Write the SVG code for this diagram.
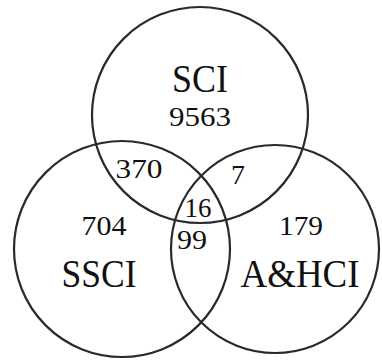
<svg xmlns="http://www.w3.org/2000/svg" width="382" height="360" viewBox="0 0 382 360">
<style>
.c{fill:none;stroke:#2a2a2a;stroke-width:2.2}
.lbl{font-family:"Liberation Serif","Times New Roman",serif;font-size:40px;fill:#111;text-anchor:middle}
.num{font-family:"Liberation Serif","Times New Roman",serif;font-size:28px;fill:#111;text-anchor:middle}
</style>
<rect width="382" height="360" fill="#ffffff"/>
<g id="sci">
<circle class="c" cx="200" cy="115" r="108"/>
<text class="lbl" x="200" y="92" textLength="56" lengthAdjust="spacingAndGlyphs">SCI</text>
<text class="num" x="200" y="126" textLength="62" lengthAdjust="spacingAndGlyphs">9563</text>
</g>
<g id="ssci">
<circle class="c" cx="122" cy="249" r="108"/>
<text class="num" x="104" y="235" textLength="45" lengthAdjust="spacingAndGlyphs">704</text>
<text class="lbl" x="99" y="287" textLength="75" lengthAdjust="spacingAndGlyphs">SSCI</text>
</g>
<g id="ahci">
<circle class="c" cx="275" cy="249" r="104"/>
<text class="num" x="301" y="235" textLength="44" lengthAdjust="spacingAndGlyphs">179</text>
<text class="lbl" x="300" y="287" textLength="119" lengthAdjust="spacingAndGlyphs">A&amp;HCI</text>
</g>
<g id="overlaps">
<text class="num" x="139" y="178" textLength="47" lengthAdjust="spacingAndGlyphs">370</text>
<text class="num" x="238" y="184">7</text>
<text class="num" x="198" y="217" textLength="27" lengthAdjust="spacingAndGlyphs">16</text>
<text class="num" x="192" y="249" textLength="30" lengthAdjust="spacingAndGlyphs">99</text>
</g>
</svg>
